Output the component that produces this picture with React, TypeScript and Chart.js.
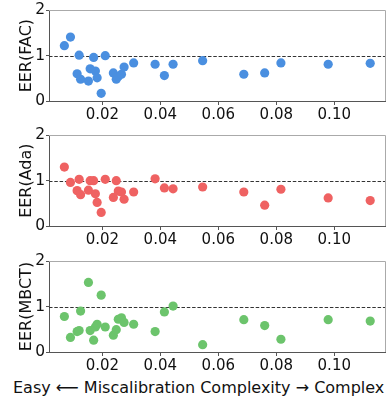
import React, { useEffect, useRef } from "react";
import { Chart, registerables } from "chart.js";

Chart.register(...registerables);

// Miscalibration complexity (x) shared by all three panels
const complexity = [
  0.0069, 0.009, 0.0113, 0.012, 0.0125, 0.0152, 0.0158, 0.017, 0.0176, 0.0182,
  0.0196, 0.021, 0.0238, 0.0248, 0.0255, 0.0266, 0.0275, 0.0308, 0.0382, 0.0414,
  0.0444, 0.0546, 0.0688, 0.076, 0.0816, 0.0979, 0.1124,
];

const eerFAC = [
  1.22, 1.41, 0.6, 1.01, 0.48, 0.44, 0.71, 0.96, 0.66, 0.51,
  0.17, 1.0, 0.62, 0.48, 0.54, 0.59, 0.75, 0.84, 0.81, 0.56,
  0.81, 0.89, 0.59, 0.62, 0.84, 0.81, 0.83,
];

const eerAda = [
  1.3, 0.96, 0.78, 1.03, 0.69, 0.79, 1.0, 1.0, 0.71, 0.52,
  0.3, 1.03, 0.63, 1.0, 0.77, 0.75, 0.59, 0.75, 1.04, 0.84,
  0.82, 0.86, 0.75, 0.46, 0.81, 0.62, 0.56,
];

const eerMBCT = [
  0.78, 0.32, 0.45, 0.47, 0.9, 1.53, 0.47, 0.26, 0.55, 0.61,
  1.25, 0.55, 0.37, 0.49, 0.72, 0.75, 0.65, 0.61, 0.45, 0.88,
  1.01, 0.16, 0.71, 0.58, 0.28, 0.71, 0.68,
];

const xTicks = [0.02, 0.04, 0.06, 0.08, 0.1];
const yTicks = [0, 1, 2];
const referenceLevel = 1;
const xRange = [0.0016, 0.1175];
const yRange = [0, 2];

const FONT = "'DejaVu Sans', sans-serif";
Chart.defaults.font.family = FONT;

type PanelProps = {
  values: number[];
  color: string;
  yTitle: string;
  top: number;
  height: number;
  padTop: number;
};

function Panel({ values, color, yTitle, top, height, padTop }: PanelProps) {
  const ref = useRef<HTMLCanvasElement>(null);

  useEffect(() => {
    const framePlugin = {
      id: "frameAndRef",
      beforeDatasetsDraw(chart: any) {
        const { ctx, chartArea, scales } = chart;
        const y = scales.y.getPixelForValue(referenceLevel);
        ctx.save();
        ctx.strokeStyle = "#333";
        ctx.lineWidth = 1.1;
        ctx.setLineDash([3.5, 1.8]);
        ctx.beginPath();
        ctx.moveTo(chartArea.left, Math.round(y) + 0.5);
        ctx.lineTo(chartArea.right, Math.round(y) + 0.5);
        ctx.stroke();
        ctx.restore();
      },
      afterDraw(chart: any) {
        const { ctx, chartArea } = chart;
        ctx.save();
        ctx.strokeStyle = "#aaa";
        ctx.lineWidth = 1;
        ctx.beginPath();
        ctx.moveTo(chartArea.left, Math.round(chartArea.top) + 0.5);
        ctx.lineTo(Math.round(chartArea.right) + 0.5, Math.round(chartArea.top) + 0.5);
        ctx.lineTo(Math.round(chartArea.right) + 0.5, chartArea.bottom);
        ctx.stroke();
        ctx.restore();
      },
    };

    const chart = new Chart(ref.current as HTMLCanvasElement, {
      type: "scatter",
      data: {
        datasets: [
          {
            data: complexity.map((x, i) => ({ x, y: values[i] })),
            backgroundColor: color,
            borderWidth: 0,
            pointRadius: 4.6,
            pointHoverRadius: 4.6,
          },
        ],
      },
      options: {
        responsive: false,
        animation: false,
        devicePixelRatio: 1,
        layout: { padding: { top: padTop, right: 5, left: 0, bottom: 0 } },
        plugins: { legend: { display: false }, tooltip: { enabled: false } },
        scales: {
          x: {
            type: "linear",
            min: xRange[0],
            max: xRange[1],
            afterBuildTicks: (s: any) => {
              s.ticks = xTicks.map((v) => ({ value: v }));
            },
            afterFit: (s: any) => {
              s.height = height - padTop - 91;
            },
            ticks: {
              callback: (v: any) => Number(v).toFixed(2),
              font: { family: FONT, size: 15 },
              color: "#111",
              padding: 1,
              maxRotation: 0,
              autoSkip: false,
            },
            grid: {
              display: true,
              drawOnChartArea: false,
              drawTicks: true,
              tickLength: 4,
              color: "#555",
            },
            border: { display: true, color: "#555", width: 1 },
          },
          y: {
            type: "linear",
            min: yRange[0],
            max: yRange[1],
            afterBuildTicks: (s: any) => {
              s.ticks = yTicks.map((v) => ({ value: v }));
            },
            afterFit: (s: any) => {
              s.width = 49;
            },
            ticks: {
              font: { family: FONT, size: 15.5 },
              color: "#111",
              padding: 1,
            },
            grid: {
              display: true,
              drawOnChartArea: false,
              drawTicks: true,
              tickLength: 3,
              color: "#555",
            },
            border: { display: true, color: "#555", width: 1 },
            title: {
              display: true,
              text: yTitle,
              font: { family: FONT, size: 16 },
              color: "#111",
              padding: { top: 17, bottom: 0 },
            },
          },
        },
      },
      plugins: [framePlugin],
    } as any);

    return () => chart.destroy();
  }, []);

  return (
    <canvas
      ref={ref}
      width={390}
      height={height}
      style={{ position: "absolute", left: 0, top, display: "block" }}
    />
  );
}

export default function App() {
  return (
    <div
      style={{
        position: "absolute",
        left: 0,
        top: 0,
        width: 390,
        height: 404,
        background: "#fff",
        overflow: "hidden",
      }}
    >
      <Panel values={eerFAC} color="#4a8fe0" yTitle="EER(FAC)" top={0} height={125} padTop={10} />
      <Panel values={eerAda} color="#ef6262" yTitle="EER(Ada)" top={125} height={125} padTop={10} />
      <Panel values={eerMBCT} color="#6cc46c" yTitle="EER(MBCT)" top={250} height={126} padTop={11} />
      <div
        style={{
          position: "absolute",
          left: 13,
          top: 378,
          fontFamily: FONT,
          fontSize: 16,
          color: "#111",
          whiteSpace: "nowrap",
        }}
      >
        Easy ⟵ Miscalibration Complexity → Complex
      </div>
    </div>
  );
}
